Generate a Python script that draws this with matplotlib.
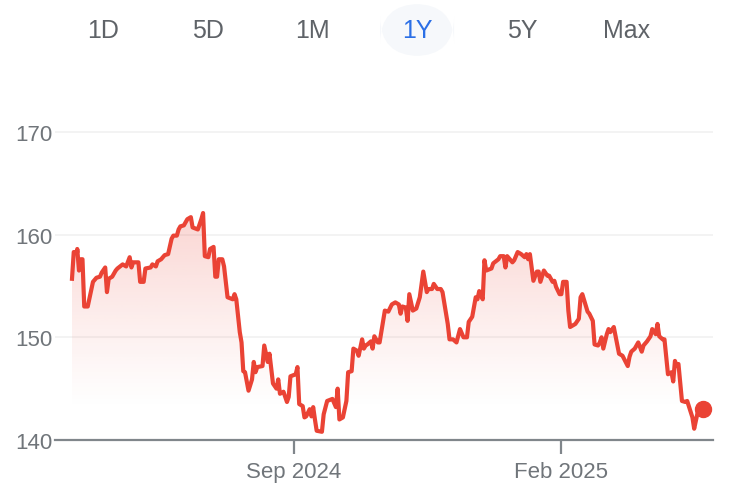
import numpy as np
import pandas as pd
import matplotlib
matplotlib.use('Agg')
from matplotlib import pyplot as plt
import matplotlib.dates as mdates
from matplotlib.patches import FancyBboxPatch

plt.rcParams['font.family'] = ['Liberation Sans', 'DejaVu Sans']

# range buttons above the chart
ranges = ['1D', '5D', '1M', '1Y', '5Y', 'Max']
active_range = '1Y'

# price series (days counted from start_date)
start_date = '2024-04-27'
days = [0, 1, 3, 3, 4, 5, 6, 7, 9, 12, 14, 16, 17, 19, 20, 21, 23, 25, 26, 29,
        31, 33, 34, 35, 38, 39, 41, 42, 45, 46, 48, 49, 51, 53, 55, 57, 58, 60, 61, 62,
        64, 66, 68, 69, 72, 74, 75, 76, 78, 79, 81, 82, 83, 84, 86, 87, 89, 92, 93, 94,
        96, 97, 98, 99, 101, 103, 104, 105, 106, 109, 110, 112, 113, 115, 117, 118, 119, 121, 122, 123,
        124, 125, 128, 129, 130, 132, 133, 134, 136, 137, 138, 139, 140, 143, 144, 146, 149, 151, 152, 153,
        155, 157, 158, 160, 161, 163, 164, 166, 167, 168, 169, 171, 172, 173, 175, 176, 179, 181, 183, 185,
        187, 188, 189, 191, 192, 193, 195, 197, 199, 201, 203, 204, 206, 207, 209, 211, 212, 215, 216, 218,
        220, 222, 224, 226, 227, 229, 231, 232, 233, 235, 236, 237, 240, 241, 244, 245, 247, 248, 249, 252,
        253, 255, 257, 259, 260, 261, 262, 264, 266, 267, 268, 270, 272, 273, 275, 276, 277, 279, 280, 281,
        283, 284, 285, 288, 290, 291, 292, 295, 296, 298, 299, 301, 302, 303, 304, 306, 307, 308, 310, 312,
        313, 315, 318, 319, 320, 322, 324, 326, 327, 329, 331, 332, 334, 335, 336, 338, 339, 341, 343, 344,
        345, 346, 347, 349, 351, 352, 355, 356, 358, 361]
prices = [155.7, 158.3, 158.3, 158.6, 156.5, 157.6, 157.6, 153.0, 153.0, 155.4,
          155.8, 155.9, 156.3, 156.8, 154.4, 155.7, 155.9, 156.5, 156.7, 157.1,
          156.9, 157.8, 156.8, 157.3, 157.3, 155.4, 155.4, 156.7, 156.8, 157.1,
          156.9, 157.4, 157.6, 158.0, 158.1, 159.6, 159.9, 159.9, 160.5, 160.8,
          160.9, 161.5, 161.7, 160.7, 160.5, 161.5, 162.1, 157.9, 157.8, 158.6,
          158.8, 155.9, 155.9, 157.6, 157.6, 156.9, 153.9, 153.7, 154.2, 153.7,
          150.5, 149.5, 146.7, 146.6, 144.8, 145.9, 147.6, 146.6, 147.1, 147.2,
          149.2, 147.6, 148.4, 145.5, 145.0, 145.9, 144.5, 144.7, 144.2, 143.7,
          144.2, 146.2, 146.4, 147.1, 143.5, 143.3, 142.2, 142.3, 143.0, 142.3,
          143.2, 142.0, 140.9, 140.8, 142.5, 143.8, 144.0, 143.2, 145.0, 142.0,
          142.2, 143.8, 146.6, 146.7, 148.9, 148.7, 148.2, 149.8, 148.9, 149.2,
          149.3, 149.6, 148.9, 150.1, 149.5, 149.5, 152.6, 152.5, 153.2, 153.4,
          153.2, 152.3, 153.0, 152.9, 151.6, 154.2, 152.6, 152.8, 153.9, 156.4,
          154.4, 154.7, 154.7, 155.2, 154.7, 154.7, 154.4, 151.3, 149.8, 149.8,
          149.5, 150.8, 150.0, 150.0, 151.5, 152.0, 153.9, 153.7, 154.5, 153.7,
          157.5, 156.5, 156.7, 157.2, 157.6, 157.9, 157.9, 156.8, 157.9, 157.3,
          157.5, 158.3, 158.1, 157.8, 158.1, 157.6, 158.1, 155.5, 156.4, 156.4,
          155.4, 156.5, 156.0, 156.0, 155.4, 155.5, 154.9, 154.2, 154.2, 155.4,
          155.4, 152.6, 151.0, 151.3, 151.8, 153.9, 154.2, 152.5, 152.3, 151.6,
          149.3, 149.2, 149.5, 150.0, 148.9, 150.3, 150.8, 150.5, 151.0, 149.3,
          148.4, 148.2, 147.2, 148.1, 148.6, 148.9, 149.5, 148.6, 149.2, 149.6,
          150.1, 150.8, 150.3, 151.3, 150.1, 149.8, 149.8, 146.4, 146.6, 145.7,
          147.7, 147.2, 147.4, 143.8, 143.7, 143.8, 142.2, 141.1, 142.7, 143.0]

y_ticks = [140, 150, 160, 170]
x_ticks = ['2024-09-01', '2025-02-01']
x_tick_labels = ['Sep 2024', 'Feb 2025']

red = '#ea4335'
grey_text = '#70757a'
axis_grey = '#80868b'

dates = pd.Timestamp(start_date) + pd.to_timedelta(days, unit='D')
xnum = mdates.date2num(dates)

W, H = 735, 485
fig = plt.figure(figsize=(W / 100, H / 100), dpi=100)
fig.patch.set_facecolor('white')

# buttons row
for i, r in enumerate(ranges):
    cx = 103 + i * 104.7
    if r == active_range:
        pill = FancyBboxPatch(((cx - 37) / W, 1 - 57 / H), 74 / W, 52 / H,
                              boxstyle='round,pad=0,rounding_size=0.0536',
                              transform=fig.transFigure, facecolor='#f6f8fb',
                              edgecolor='none', mutation_aspect=W / H)
        fig.patches.append(pill)
        col = '#2b6fe6'
    else:
        col = '#5f6368'
    fig.text(cx / W, 1 - 31 / H, r, ha='center', va='center', fontsize=18, color=col)

# chart area
left, right, bottom_px, top_px = 55, 713, 441, 112
ax = fig.add_axes([left / W, (H - bottom_px) / H, (right - left) / W, (bottom_px - top_px) / H])
ymin = 140
ymax = 140 + (bottom_px - top_px) / 10.27
ax.set_ylim(ymin, ymax)
x0 = xnum[0] - (72 - left) / 1.7477
x1 = xnum[0] + (right - 72) / 1.7477
ax.set_xlim(x0, x1)

# gradient fill under the line
floor = 140
poly = ax.fill_between(xnum, prices, floor, color='none', lw=0)
clip = poly.get_paths()[0]
top_v = max(prices)
yy = np.linspace(floor, top_v, 300)
alpha = np.clip((yy - 143) / (top_v - 143), 0, 1) ** 1.1 * 0.22
rgba = np.zeros((300, 1, 4))
rgba[..., 0] = 234 / 255
rgba[..., 1] = 67 / 255
rgba[..., 2] = 53 / 255
rgba[..., 3] = alpha[:, None]
img = ax.imshow(rgba, extent=[xnum[0], xnum[-1], floor, top_v], origin='lower',
                aspect='auto', zorder=1, interpolation='bilinear')
img.set_clip_path(clip, transform=ax.transData)

ax.plot(xnum, prices, color=red, lw=3.0, solid_joinstyle='round', zorder=3)
ax.plot(xnum[-1], prices[-1], 'o', color=red, ms=11.5, zorder=4)

# axes styling
for s in ['top', 'right', 'left']:
    ax.spines[s].set_visible(False)
ax.spines['bottom'].set_color(axis_grey)
ax.spines['bottom'].set_linewidth(1.6)
ax.spines['bottom'].set_zorder(5)

ax.set_yticks(y_ticks)
ax.set_yticklabels([str(t) for t in y_ticks])
ax.tick_params(axis='y', length=0, pad=2, labelsize=16, labelcolor=grey_text)
ax.yaxis.grid(True, color='#f1f1f1', lw=1.2)
ax.set_axisbelow(True)

ax.set_xticks(mdates.date2num(pd.to_datetime(x_ticks)))
ax.set_xticklabels(x_tick_labels)
ax.tick_params(axis='x', length=10, width=1.6, color=axis_grey, pad=5,
               labelsize=16, labelcolor=grey_text)

fig.savefig('out.png', dpi=100)
